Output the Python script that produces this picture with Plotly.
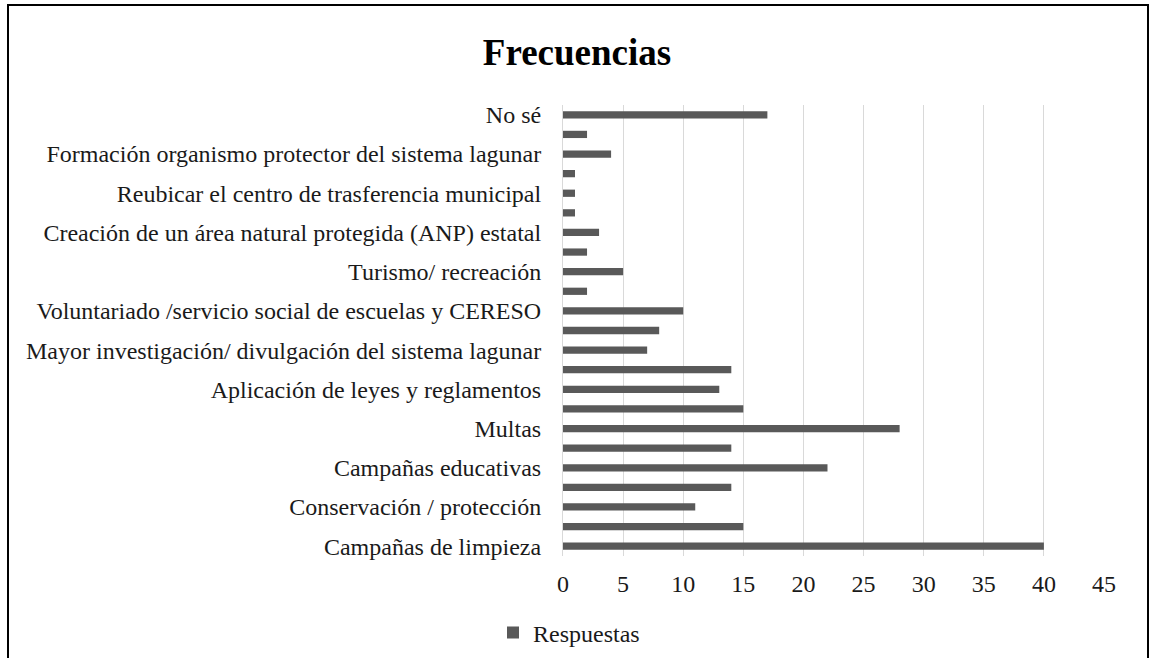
import plotly.graph_objects as go

# Categories listed bottom-to-top; "" = category whose label is hidden in the original
categories = [
    "Campañas de limpieza", "",
    "Conservación / protección", "",
    "Campañas educativas", "",
    "Multas", "",
    "Aplicación de leyes y reglamentos", "",
    "Mayor investigación/ divulgación del sistema lagunar", "",
    "Voluntariado /servicio social de escuelas y CERESO", "",
    "Turismo/ recreación", "",
    "Creación de un área natural protegida (ANP) estatal", "",
    "Reubicar el centro de trasferencia municipal", "",
    "Formación organismo protector del sistema lagunar", "",
    "No sé",
]
respuestas = [40, 15, 11, 14, 22, 14, 28, 15, 13, 14, 7, 8, 10, 2, 5, 2, 3, 1, 1, 1, 4, 2, 17]
x_ticks = [0, 5, 10, 15, 20, 25, 30, 35, 40, 45]

FONT = "Liberation Serif, Times New Roman, serif"
positions = list(range(len(categories)))
tickvals = [p for p, c in zip(positions, categories) if c]
ticktext = [c for c in categories if c]

fig = go.Figure()
fig.add_trace(go.Bar(
    x=respuestas, y=positions, orientation="h", name="Respuestas",
    marker=dict(color="#595959", line=dict(width=0)),
))

W, H = 1155, 658
L, R, T, B = 563, 51, 105, 102
pw, ph = W - L - R, H - T - B

def px_x(x):
    return (x - L) / pw

def px_y(y):
    return (H - B - y) / ph

fig.update_layout(
    width=W, height=H,
    margin=dict(l=L, r=R, t=T, b=B, autoexpand=False),
    paper_bgcolor="white", plot_bgcolor="white",
    font=dict(family=FONT, color="#1a1a1a", size=24),
    title=dict(text="<b>Frecuencias</b>", x=577 / W, xref="container", xanchor="center",
               y=1 - 52 / H, yref="container", yanchor="middle",
               font=dict(family=FONT, size=37, color="#000000")),
    bargap=0.63,
    showlegend=True,
    legend=dict(orientation="h", x=px_x(493), xanchor="left", y=px_y(633), yanchor="middle",
                font=dict(family=FONT, size=24, color="#1a1a1a"), bgcolor="rgba(0,0,0,0)",
                itemwidth=30),
    xaxis=dict(range=[0, 45], tickvals=x_ticks, showgrid=True, gridcolor="#d9d9d9", gridwidth=1,
               zeroline=False, showline=False, ticks="outside", ticklen=6,
               tickcolor="rgba(0,0,0,0)", tickfont=dict(family=FONT, size=24, color="#1a1a1a"),
               fixedrange=True),
    yaxis=dict(range=[-0.5, len(categories) - 0.5], tickvals=tickvals, ticktext=ticktext,
               showgrid=False, zeroline=False, showline=True, linecolor="#d9d9d9", linewidth=1,
               ticks="outside", ticklen=16, tickcolor="rgba(0,0,0,0)",
               tickfont=dict(family=FONT, size=24, color="#1a1a1a"), fixedrange=True),
)

# Outer chart frame (open at the bottom, as in the reference)
fig.add_shape(type="path", xref="paper", yref="paper",
              path=f"M {px_x(8)} {px_y(700)} L {px_x(8)} {px_y(5)} L {px_x(1148)} {px_y(5)} L {px_x(1148)} {px_y(700)}",
              line=dict(color="#000000", width=2))

fig.write_html("out.html", config={"displayModeBar": False},
               post_script="document.body.style.margin='0';")
